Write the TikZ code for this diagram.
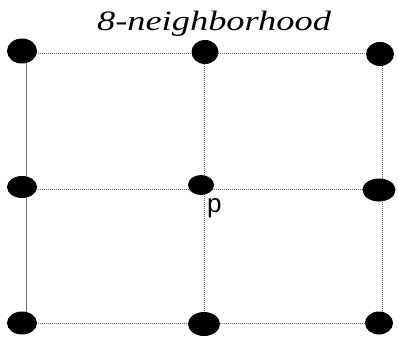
\documentclass[tikz,border=0pt]{standalone}
\usepackage{fontspec}
\setmainfont{Liberation Serif}
\newfontfamily\lsans{Liberation Sans}
\usetikzlibrary{shapes.geometric}
\begin{document}
\begin{tikzpicture}[x=1pt,y=-1pt,
  gridline/.style={draw=black!60,line width=1pt,densely dotted},
  solidline/.style={draw=black!55,line width=1pt},
  dot/.style={ellipse,fill=black,inner sep=0pt}]
\useasboundingbox (0,0) rectangle (398,342);
% grid coordinates
\coordinate (g11) at (26,54);
\coordinate (g12) at (204,54);
\coordinate (g13) at (382,54);
\coordinate (g21) at (26,189);
\coordinate (g22) at (204,189);
\coordinate (g23) at (382,189);
\coordinate (g31) at (26,323);
\coordinate (g32) at (204,323);
\coordinate (g33) at (382,323);
% lines
\draw[gridline] (g11) -- (g12) -- (g13);
\draw[gridline] (g21) -- (g22) -- (g23);
\draw[gridline] (g31) -- (g32) -- (g33);
\draw[solidline] (g11) -- (g31);
\draw[gridline] (g12) -- (g32);
\draw[gridline] (g13) -- (g33);
% dots
\node[dot,minimum width=30pt,minimum height=25pt] (tl) at (22,51) {};
\node[dot,minimum width=27pt,minimum height=24pt] (tm) at (205,52) {};
\node[dot,minimum width=28pt,minimum height=24pt] (tr) at (380,54) {};
\node[dot,minimum width=30pt,minimum height=22pt] (ml) at (22,187) {};
\node[dot,minimum width=26pt,minimum height=20pt] (mm) at (201,185) {};
\node[dot,minimum width=33pt,minimum height=23pt] (mr) at (379,190) {};
\node[dot,minimum width=30pt,minimum height=23pt] (bl) at (22,323) {};
\node[dot,minimum width=32pt,minimum height=24pt] (bm) at (204,324) {};
\node[dot,minimum width=28pt,minimum height=23pt] (br) at (379,323) {};
% labels
\node[anchor=base,inner sep=0pt,xscale=1.3,font=\itshape\fontsize{28}{32}\selectfont] (title) at (214,31) {8-neighborhood};
\node[anchor=base west,inner sep=0pt,font=\lsans\fontsize{26}{30}\selectfont] (plabel) at (207,212) {p};
\end{tikzpicture}
\end{document}
